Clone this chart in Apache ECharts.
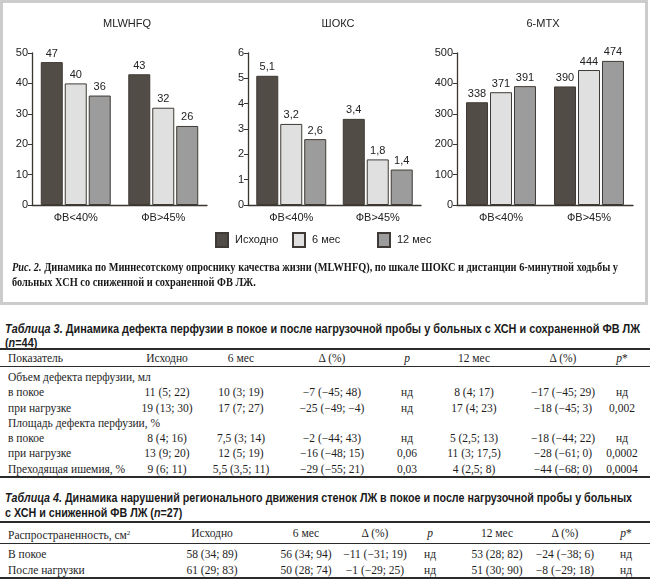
<!DOCTYPE html>
<html><head><meta charset="utf-8">
<script src="https://cdn.jsdelivr.net/npm/echarts@6/dist/echarts.min.js"></script>
<style>
html,body{margin:0;padding:0;background:#fff;}
body{width:650px;height:581px;position:relative;overflow:hidden;color:#1e1e1e;}
#chart{position:absolute;left:0;top:0;width:650px;height:306px;}
.ln{position:absolute;white-space:nowrap;transform-origin:0 50%;}
.cap{left:12px;font:bold 11.6px/15px "Liberation Serif",serif;color:#1a1a1a;}
.ttl{left:5px;font:bold 12px/14px "Liberation Sans",Arial,sans-serif;color:#1a1a1a;}
.rule{position:absolute;left:0;width:650px;background:#2b2b2b;}
.cell{position:absolute;white-space:nowrap;font:11.5px/15px "Liberation Serif",serif;color:#1e1e1e;height:15px;}
.ctr{transform:translateX(-50%);}
</style></head><body>
<div id="chart"></div>
<div class="ln cap" id="cap1" style="top:260px"><i>Рис. 2.</i> Динамика по Миннесотскому опроснику качества жизни (MLWHFQ), по шкале ШОКС и дистанции 6-минутной ходьбы у</div>
<div class="ln cap" id="cap2" style="top:275px">больных ХСН со сниженной и сохраненной ФВ ЛЖ.</div>
<div class="ln ttl" id="t3a" style="top:322px"><i>Таблица 3.</i> Динамика дефекта перфузии в покое и после нагрузочной пробы у больных с ХСН и сохраненной ФВ ЛЖ</div>
<div class="ln ttl" id="t3b" style="top:336px">(<i>n</i>=44)</div>
<div class="ln ttl" id="t4a" style="top:491px"><i>Таблица 4.</i> Динамика нарушений регионального движения стенок ЛЖ в покое и после нагрузочной пробы у больных</div>
<div class="ln ttl" id="t4b" style="top:506px">с ХСН и сниженной ФВ ЛЖ (<i>n</i>=27)</div>
<div id="tables"></div>
<script>
// ---- chart data ----
const categories = ['ФВ<40%', 'ФВ>45%'];
const seriesNames = ['Исходно', '6 мес', '12 мес'];
const chartTitles = ['MLWHFQ', 'ШОКС', '6-МТХ'];
const mlwhfqBase = [47, 43];
const mlwhfq6 = [40, 32];
const mlwhfq12 = [36, 26];
const shoksBase = [5.1, 3.4];
const shoks6 = [3.2, 1.8];
const shoks12 = [2.6, 1.4];
const mtxBase = [338, 390];
const mtx6 = [371, 444];
const mtx12 = [391, 474];
const yMax = [50, 6, 500];
const yStep = [10, 1, 100];

// ---- table data ----
const t3Header = ['Показатель', 'Исходно', '6 мес', 'Δ (%)', '<i>p</i>', '12 мес', 'Δ (%)', '<i>p</i>*'];
const t3Rows = [
  ['Объем дефекта перфузии, мл'],
  ['в покое', '11 (5; 22)', '10 (3; 19)', '−7 (−45; 48)', 'нд', '8 (4; 17)', '−17 (−45; 29)', 'нд'],
  ['при нагрузке', '19 (13; 30)', '17 (7; 27)', '−25 (−49; −4)', 'нд', '17 (4; 23)', '−18 (−45; 3)', '0,002'],
  ['Площадь дефекта перфузии, %'],
  ['в покое', '8 (4; 16)', '7,5 (3; 14)', '−2 (−44; 43)', 'нд', '5 (2,5; 13)', '−18 (−44; 22)', 'нд'],
  ['при нагрузке', '13 (9; 20)', '12 (5; 19)', '−16 (−48; 15)', '0,06', '11 (3; 17,5)', '−28 (−61; 0)', '0,0002'],
  ['Преходящая ишемия, %', '9 (6; 11)', '5,5 (3,5; 11)', '−29 (−55; 21)', '0,03', '4 (2,5; 8)', '−44 (−68; 0)', '0,0004']
];
const t4Header = ['Распространенность, см<sup style="font-size:7px;vertical-align:4px">2</sup>', 'Исходно', '6 мес', 'Δ (%)', '<i>p</i>', '12 мес', 'Δ (%)', '<i>p</i>*'];
const t4Rows = [
  ['В покое', '58 (34; 89)', '56 (34; 94)', '−11 (−31; 19)', 'нд', '53 (28; 82)', '−24 (−38; 6)', 'нд'],
  ['После нагрузки', '61 (29; 83)', '50 (28; 74)', '−1 (−29; 25)', 'нд', '51 (30; 90)', '−8 (−29; 18)', 'нд']
];

// ---- fit condensed text lines to the reference widths ----
function fit(refId, targetW, ids) {
  const w = document.getElementById(refId).getBoundingClientRect().width;
  const s = targetW / w;
  ids.forEach(id => { document.getElementById(id).style.transform = 'scaleX(' + s + ')'; });
}
fit('cap1', 606, ['cap1', 'cap2']);
fit('t3a', 635, ['t3a', 't3b']);
fit('t4a', 627, ['t4a', 't4b']);

// ---- tables layout ----
function drawTable(header, rows, colX, headY, rowYs, rules) {
  const box = document.getElementById('tables');
  function put(html, x, yc, center) {
    const d = document.createElement('div');
    d.className = 'cell' + (center ? ' ctr' : '');
    d.style.left = x + 'px';
    d.style.top = (yc - 7.5) + 'px';
    d.innerHTML = html;
    box.appendChild(d);
  }
  header.forEach((h, i) => put(h, i === 0 ? 8 : colX[i - 1], headY, i !== 0));
  rows.forEach((r, j) => r.forEach((v, i) => put(v, i === 0 ? 8 : colX[i - 1], rowYs[j], i !== 0)));
  rules.forEach(([y, h]) => {
    const d = document.createElement('div');
    d.className = 'rule';
    d.style.top = y + 'px';
    d.style.height = h + 'px';
    box.appendChild(d);
  });
}
drawTable(t3Header, t3Rows, [167, 241, 332, 407, 474, 563, 622], 358,
  [377, 392, 408, 423, 438, 453, 469], [[348, 2], [366, 1], [476, 2]]);
drawTable(t4Header, t4Rows, [212, 306, 375, 430, 497, 565, 626], 533,
  [554, 570], [[521, 2], [543, 1], [577, 2]]);

// ---- chart ----
const chart = echarts.init(document.getElementById('chart'));
const grids = [
  {left: 32, top: 53, width: 175, height: 152},
  {left: 248, top: 53, width: 173, height: 152},
  {left: 457, top: 53, width: 176, height: 152}
];
const titleX = [127, 338, 543];
const dataSets = [
  [mlwhfqBase, mlwhfq6, mlwhfq12],
  [shoksBase, shoks6, shoks12],
  [mtxBase, mtx6, mtx12]
];
const colors = ['#524c46', '#e0e0e0', '#9c9c9c'];
const axisColor = '#3b352f';
const font = '"Liberation Sans", Arial, sans-serif';

const series = [];
dataSets.forEach((set, g) => {
  set.forEach((vals, k) => {
    series.push({
      name: seriesNames[k], type: 'bar', xAxisIndex: g, yAxisIndex: g,
      data: vals, barWidth: 22, barGap: '9%',
      itemStyle: {color: colors[k], borderColor: '#3f3a35', borderWidth: 1},
      label: {show: true, position: 'top', distance: 3, fontSize: 11, color: '#222', fontFamily: font,
        formatter: p => String(p.value).replace('.', ',')},
      emphasis: {disabled: true}
    });
  });
});

const legendLeft = [215, 292, 377];
chart.setOption({
  animation: false,
  grid: grids,
  xAxis: grids.map((_, g) => ({
    type: 'category', gridIndex: g, data: categories,
    axisLine: {lineStyle: {color: axisColor, width: 1.3}},
    axisTick: {inside: true, length: 4, lineStyle: {color: axisColor}},
    axisLabel: {fontSize: 11, color: '#222', fontFamily: font, margin: 7}
  })),
  yAxis: grids.map((_, g) => ({
    type: 'value', gridIndex: g, min: 0, max: yMax[g], interval: yStep[g],
    splitLine: {show: false},
    axisLine: {show: true, lineStyle: {color: axisColor, width: 1.3}},
    axisTick: {show: true, length: 4, lineStyle: {color: axisColor}},
    axisLabel: {fontSize: 11, color: '#222', fontFamily: font, margin: 4}
  })),
  legend: seriesNames.map((n, i) => ({
    data: [n], left: legendLeft[i], top: 232, padding: 0, icon: 'rect',
    itemWidth: 12, itemHeight: 14, selectedMode: false,
    textStyle: {fontSize: 11, color: '#222', fontFamily: font, padding: [0, 0, 0, 2]}
  })),
  graphic: [
    {type: 'rect', silent: true, shape: {x: 1.5, y: 1.5, width: 645, height: 302},
      style: {fill: 'none', stroke: '#cccccc', lineWidth: 3}},
    ...chartTitles.map((t, i) => ({
      type: 'text', silent: true, x: titleX[i], y: 24,
      style: {text: t, fill: '#222', font: '11px ' + font, align: 'center', verticalAlign: 'middle',
        textAlign: 'center', textVerticalAlign: 'middle'}
    }))
  ],
  series: series
});
</script>
</body></html>
